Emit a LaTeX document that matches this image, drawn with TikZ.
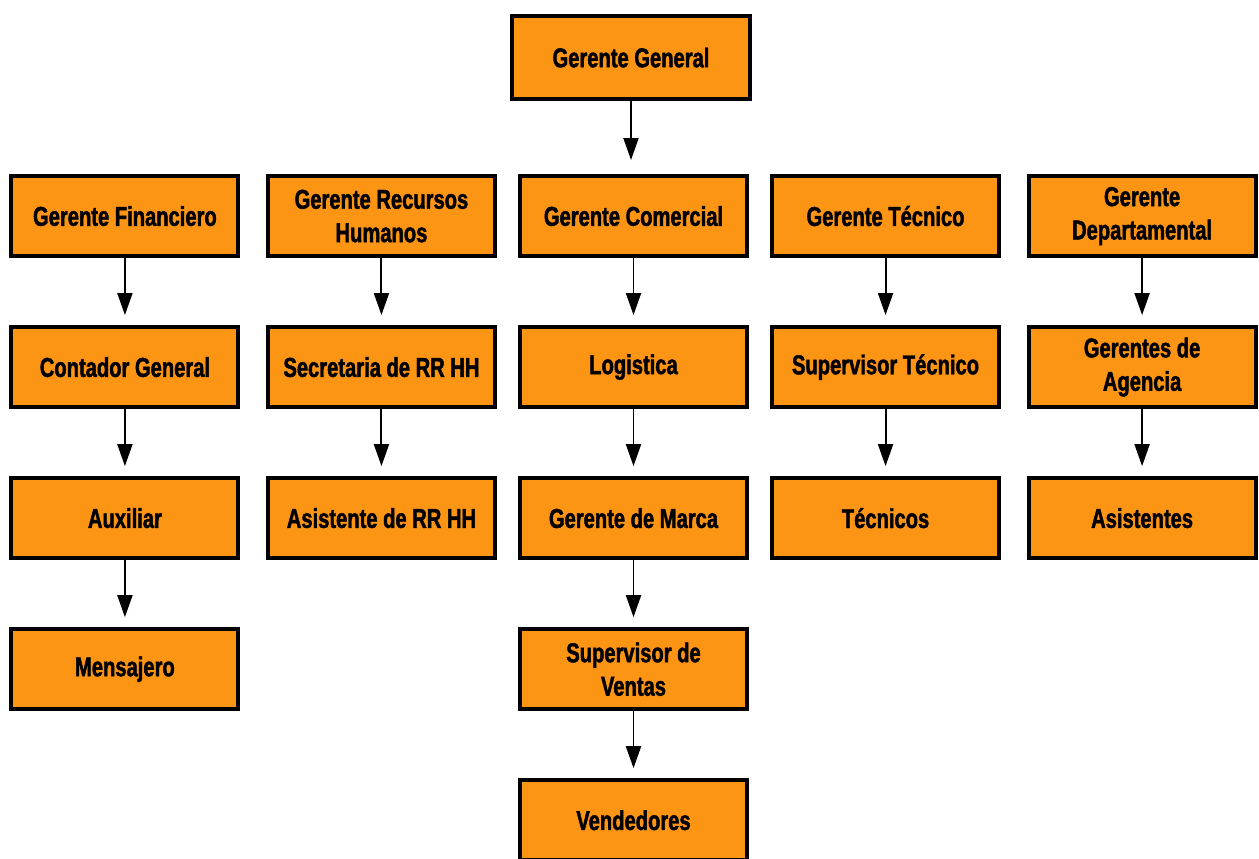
\documentclass[tikz,border=0pt]{standalone}
\usepackage{fontspec}
\newfontfamily\orgfont[FakeStretch=0.74, FakeBold=1.6]{Liberation Sans}
\usepackage{xcolor}
\usepackage{tikz}
\usetikzlibrary{arrows.meta, positioning}
\definecolor{orgfill}{RGB}{252,148,20}

\begin{document}
\begin{tikzpicture}[
  node distance=1.34cm and 0.42cm,
  every node/.style={font=\orgfont\bfseries\fontsize{15.5}{19}\selectfont},
  role/.style={rectangle, draw, line width=2.3pt, fill=orgfill, minimum width=4.54cm, minimum height=1.6cm, align=center, inner sep=2pt},
  arrow/.style={-{Triangle[length=0.44cm, width=0.3cm]}, line width=1.1pt, shorten >=0.2cm},
]
  \useasboundingbox (0,0) rectangle (25.18,-17.16);

  \node[role, minimum width=4.76cm, minimum height=1.66cm] (gg) at (12.62,-1.15) {Gerente General};

  \node[role, below=1.46cm of gg, xshift=0.05cm] (gc) {Gerente Comercial};
  \node[role, left=of gc] (rh) {Gerente Recursos\\Humanos};
  \node[role, left=0.51cm of rh] (gf) {Gerente Financiero};
  \node[role, right=of gc] (gt) {Gerente Técnico};
  \node[role, right=0.51cm of gt] (gd) {Gerente\\Departamental};

  \node[role, below=of gf] (cont) {Contador General};
  \node[role, below=of cont] (aux) {Auxiliar};
  \node[role, below=of aux] (mens) {Mensajero};

  \node[role, below=of rh] (secr) {Secretaria de RR HH};
  \node[role, below=of secr] (asis) {Asistente de RR HH};

  \node[role, below=of gc] (log) {Logistica};
  \node[role, below=of log] (marca) {Gerente de Marca};
  \node[role, below=of marca] (sup) {Supervisor de\\Ventas};
  \node[role, below=of sup] (vend) {Vendedores};

  \node[role, below=of gt] (supt) {Supervisor Técnico};
  \node[role, below=of supt] (tec) {Técnicos};

  \node[role, below=of gd] (agen) {Gerentes de\\Agencia};
  \node[role, below=of agen] (asts) {Asistentes};

  \draw[arrow, shorten >=0.28cm] (gg) -- (gg |- gc.north);
  \draw[arrow] (gf) -- (cont);
  \draw[arrow] (cont) -- (aux);
  \draw[arrow] (aux) -- (mens);
  \draw[arrow] (rh) -- (secr);
  \draw[arrow] (secr) -- (asis);
  \draw[arrow] (gc) -- (log);
  \draw[arrow] (log) -- (marca);
  \draw[arrow] (marca) -- (sup);
  \draw[arrow] (sup) -- (vend);
  \draw[arrow] (gt) -- (supt);
  \draw[arrow] (supt) -- (tec);
  \draw[arrow] (gd) -- (agen);
  \draw[arrow] (agen) -- (asts);
\end{tikzpicture}
\end{document}
